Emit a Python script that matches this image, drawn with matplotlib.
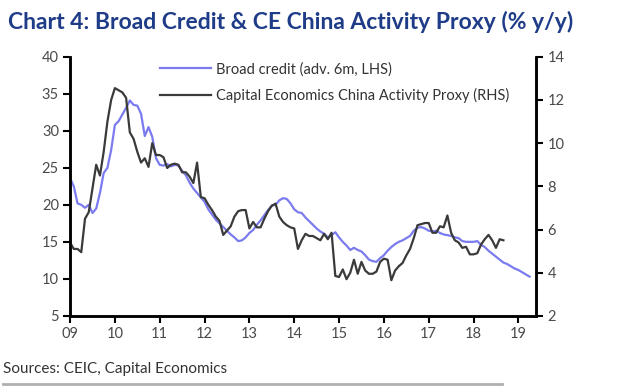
import numpy as np
import matplotlib
matplotlib.use("Agg")
import matplotlib.pyplot as plt

# Broad credit, % y/y, advanced 6 months (LHS), monthly from Jan 2009
broad_credit = [
    23.6, 22.5, 20.2, 20.0, 19.6, 20.0, 18.9, 19.5, 21.6, 24.3, 25.0, 27.4,
    30.8, 31.3, 32.2, 33.1, 34.1, 33.5, 33.4, 32.3, 29.3, 30.5, 29.2, 26.3,
    25.4, 25.3, 25.5, 25.2, 25.4, 25.3, 24.6, 24.0, 23.0, 22.2, 21.6, 21.0,
    20.4, 19.4, 18.7, 18.0, 17.5, 17.0, 16.5, 16.0, 15.6, 15.1, 15.2, 15.6,
    16.2, 16.6, 17.3, 17.9, 18.6, 19.3, 19.9, 20.0, 20.6, 20.9, 20.8, 20.2,
    19.4, 19.0, 18.9, 18.3, 17.8, 17.3, 16.8, 16.4, 16.1, 15.6, 15.9, 16.3,
    15.6, 15.0, 14.5, 13.9, 14.2, 13.9, 13.7, 13.2, 12.6, 12.4, 12.3, 12.8,
    13.2, 13.8, 14.3, 14.7, 15.0, 15.2, 15.5, 15.8, 16.5, 16.9, 17.0, 16.8,
    16.5, 16.4, 16.5, 16.2, 16.0, 15.9, 15.8, 15.6, 15.5, 15.1, 15.0, 15.0,
    15.0, 15.1, 14.6, 14.3, 13.8, 13.4, 13.0, 12.6, 12.2, 12.0, 11.7, 11.4,
    11.2, 10.9, 10.6, 10.3,
]

# CE China Activity Proxy, % y/y (RHS), monthly from Jan 2009
activity_proxy = [
    5.4, 5.1, 5.1, 4.95, 6.5, 6.8, 7.9, 9.0, 8.5, 9.6, 11.0, 12.0,
    12.55, 12.45, 12.35, 12.1, 10.5, 10.2, 9.6, 9.1, 9.3, 8.9, 10.0, 9.45,
    9.45, 9.35, 8.85, 9.0, 9.05, 9.0, 8.65, 8.65, 8.45, 8.15, 9.1, 7.5,
    7.45, 7.15, 6.9, 6.6, 6.4, 5.75, 5.95, 6.15, 6.6, 6.85, 6.9, 6.9,
    6.05, 6.35, 6.1, 6.1, 6.5, 6.85, 7.1, 7.2, 6.6, 6.35, 6.2, 6.1,
    6.05, 5.1, 5.5, 5.8, 5.7, 5.7, 5.6, 5.5, 5.8, 5.55, 5.85, 3.85,
    3.8, 4.15, 3.7, 4.0, 4.6, 3.95, 4.5, 4.1, 3.95, 3.95, 4.05, 4.5,
    4.65, 4.6, 3.65, 4.1, 4.3, 4.45, 4.8, 5.1, 5.6, 6.2, 6.25, 6.3,
    6.3, 5.85, 5.85, 6.15, 6.1, 6.65, 5.85, 5.5, 5.4, 5.15, 5.2, 4.85,
    4.85, 4.9, 5.3, 5.55, 5.75, 5.5, 5.15, 5.55, 5.5,
]

years = list(range(2009, 2020))
year_labels = ["09", "10", "11", "12", "13", "14", "15", "16", "17", "18", "19"]

t_credit = 2009 + np.arange(len(broad_credit)) / 12
t_proxy = 2009 + np.arange(len(activity_proxy)) / 12

plt.rcParams['font.family'] = ['Lato', 'DejaVu Sans']

fig = plt.figure(figsize=(6.2, 3.89), dpi=100)
ax = fig.add_axes([0.113, 0.188, 0.752, 0.666])
ax2 = ax.twinx()

l1, = ax.plot(t_credit, broad_credit, color="#7b7bf0", lw=1.6,
              label="Broad credit (adv. 6m, LHS)")
l2, = ax2.plot(t_proxy, activity_proxy, color="#3a3a3a", lw=1.6,
               label="Capital Economics China Activity Proxy (RHS)")

ax.set_xlim(2009, 2019.4)
ax.set_ylim(5, 40)
ax2.set_ylim(2, 14)
ax.set_yticks(range(5, 41, 5))
ax2.set_yticks(range(2, 15, 2))
ax.set_xticks(years)
ax.set_xticklabels(year_labels)

for a in (ax, ax2):
    a.spines['top'].set_visible(False)
    for s in ('left', 'right', 'bottom'):
        a.spines[s].set_linewidth(1.8)
        a.spines[s].set_color("black")
    a.tick_params(axis='both', length=5, width=1.5, color="black",
                  labelsize=10.5, labelcolor="#4a4a4a", pad=3)

ax.legend(handles=[l1, l2], loc="upper left", bbox_to_anchor=(0.165, 1.03),
          frameon=False, fontsize=10.5, handlelength=3.5, handletextpad=0.3,
          labelspacing=0.8, labelcolor="#333333")

fig.text(0.013, 0.943, "Chart 4: Broad Credit & CE China Activity Proxy (% y/y)",
         fontsize=16.5, fontweight="bold", color="#1f3c88", va="center")
fig.text(0.005, 0.052, "Sources: CEIC, Capital Economics", fontsize=11,
         color="#333333", va="center")
fig.add_artist(plt.Line2D([0.005, 0.81], [0.012, 0.012], color="#b0b0b0", lw=2))

fig.savefig("out.png", dpi=100)
